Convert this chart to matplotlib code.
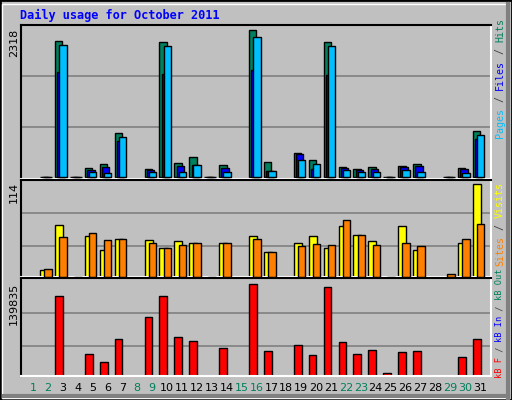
import numpy as np
import matplotlib
matplotlib.use("Agg")
import matplotlib.pyplot as plt
from matplotlib.patches import Rectangle

N = np.nan
days = list(range(1, 32))
weekend = [1, 2, 8, 9, 15, 16, 22, 23, 29, 30]
hits  = [N,0,2132,0,132,195,684,N,117,2117,211,306,0,180,N,2318,227,N,369,258,2117,148,117,148,0,164,195,N,0,132,715]
files = [N,0,1654,0,106,158,562,N,101,1618,169,180,0,132,N,1681,95,N,353,121,1602,132,101,117,0,148,164,N,0,117,589]
pages = [N,0,2070,0,69,58,621,N,69,2054,74,180,0,69,N,2196,85,N,258,195,2054,101,69,69,0,101,69,N,0,54,652]
visits = [N,8,64,0,50,33,47,N,45,35,44,41,0,41,N,50,30,N,42,50,35,62,52,44,0,62,33,N,N,41,114]
sites  = [N,10,49,0,54,45,46,N,42,36,39,42,0,41,N,47,30,N,37.5,40,39,70,52,39,0,42,37.5,N,3,47,65]
kbytes = [N,0,121500,N,32700,20500,55700,N,89400,121500,58750,52600,0,41900,N,139835,37300,N,46500,31200,135250,51100,32700,38900,3700,35800,37300,N,N,28150,55700]
max_hits, max_visits, max_kb = 2318, 114, 139835

BG = "#C0C0C0"
W, H = 512, 400
fig = plt.figure(figsize=(5.12, 4.0), dpi=100)
fig.patch.set_facecolor(BG)

def ax_px(x0, y0, x1, y1):
    return fig.add_axes([x0 / W, 1 - y1 / H, (x1 - x0) / W, (y1 - y0) / H])

fig.add_artist(Rectangle((0, 0), 1, 1, transform=fig.transFigure, fill=False, ec="black", lw=2))
fig.add_artist(Rectangle((2/W, 2/H), (W-6)/W, (H-6)/H, transform=fig.transFigure, fill=False, ec="white", lw=1))
fig.add_artist(plt.Line2D([(W-4)/W, (W-4)/W], [2/H, (H-4)/H], transform=fig.transFigure, color="#808080", lw=3))
fig.add_artist(plt.Line2D([4/W, (W-4)/W], [4/H, 4/H], transform=fig.transFigure, color="#808080", lw=3))

x = np.array(days, dtype=float)
xl = (0.2, 31.7)

def setup(ax, ylim, grids):
    ax.set_facecolor(BG)
    ax.set_xlim(*xl)
    ax.set_ylim(*ylim)
    ax.set_xticks([]); ax.set_yticks([])
    for g in grids:
        ax.axhline(g, color="#808080", lw=1.2, zorder=0)
    for s in ["top", "left"]:
        ax.spines[s].set_color("black")
    for s in ["bottom", "right"]:
        ax.spines[s].set_color("white")
    for s in ax.spines.values():
        s.set_linewidth(1.5)

ax1 = ax_px(21, 25, 491, 179)
setup(ax1, (-36, 2389), [778, 1581])
ax1.bar(x - 0.52, hits, width=0.5, align="edge", color="#00805C", ec="black", lw=1, zorder=2)
ax1.bar(x - 0.37, files, width=0.5, align="edge", color="#0000FF", ec="black", lw=1, zorder=3)
ax1.bar(x - 0.24, pages, width=0.5, align="edge", color="#00BFFF", ec="black", lw=1, zorder=4)

ax2 = ax_px(21, 180, 491, 277)
setup(ax2, (-0.4, 119.3), [37.5, 78])
ax2.bar(x - 0.52, visits, width=0.54, align="edge", color="#FFFF00", ec="black", lw=1, zorder=2)
ax2.bar(x - 0.24, sites, width=0.5, align="edge", color="#FF8000", ec="black", lw=1, zorder=3)

ax3 = ax_px(21, 278, 491, 376)
setup(ax3, (-460, 149500), [45000, 95500])
ax3.bar(x - 0.52, kbytes, width=0.52, align="edge", color="#FF0000", ec="black", lw=1, zorder=2)

mono = "DejaVu Sans Mono"
fig.text(20/W, 1 - 15/H, "Daily usage for October 2011", color="#0000FF", fontsize=8.6,
         family=mono, fontweight="bold", va="center", ha="left")

for lab, yc, in [(str(max_hits), 29), (str(max_visits), 182), (str(max_kb), 283)]:
    fig.text(14/W, 1 - yc/H, lab, rotation=90, fontsize=8, family="DejaVu Sans",
             va="top", ha="center")

for d in days:
    fig.text((33 + (d - 1) * 14.9) / W, 1 - 388/H, str(d), fontsize=8, family="DejaVu Sans",
             color="#00805C" if d in weekend else "black", ha="center", va="center")

def vtext(parts, ybottom, fs, xc=500):
    adv = 0.6 * fs * 100 / 72
    y = ybottom
    for txt, col in parts:
        fig.text(xc / W, 1 - y / H, txt, rotation=90, fontsize=fs, family=mono,
                 color=col, ha="center", va="bottom")
        y -= adv * len(txt)

vtext([("Pages", "#00BFFF"), (" / ", "#404040"), ("Files", "#0000FF"), (" / ", "#404040"), ("Hits", "#00805C")], 138, 7.2)
vtext([("Sites", "#FF8000"), (" / ", "#404040"), ("Visits", "#FFFF00")], 266, 7.2)
vtext([("kB F", "#FF0000"), (" / ", "#404040"), ("kB In", "#0000FF"), (" / ", "#404040"), ("kB Out", "#00805C")], 378, 6.2)

fig.savefig("out.png", dpi=100, facecolor=BG)
